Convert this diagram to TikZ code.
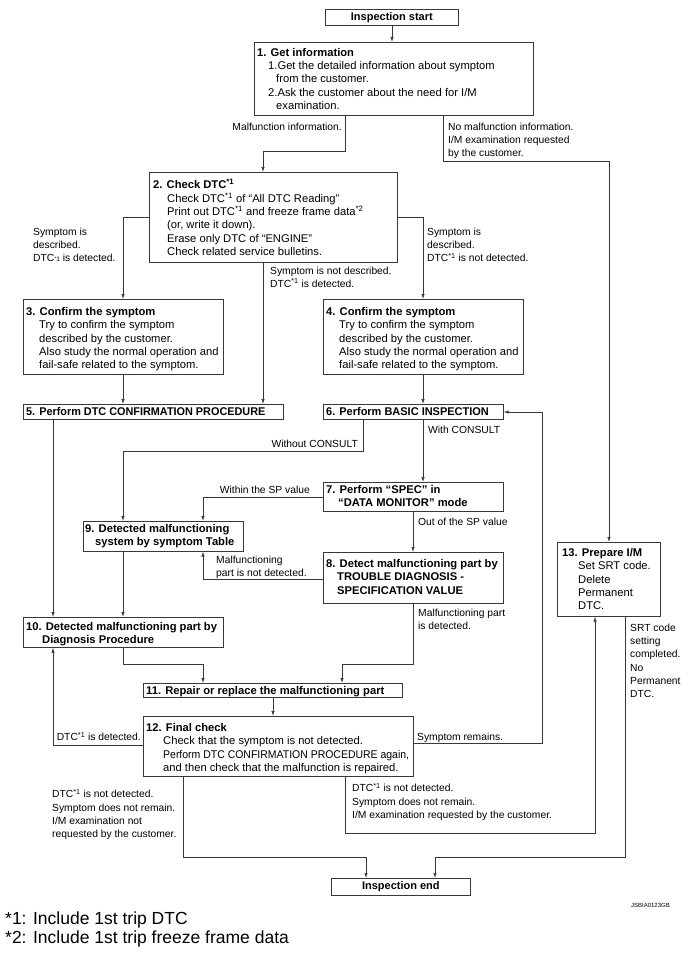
\documentclass[tikz,border=0pt]{standalone}
\usepackage{fontspec}
\setmainfont{Liberation Sans}
\usetikzlibrary{arrows.meta}
\newcommand{\sone}{\textsuperscript{*1}}
\newcommand{\stwo}{\textsuperscript{*2}}
\newcommand{\slow}{\raisebox{1.2pt}{\fontsize{5}{5}\selectfont*}{\fontsize{6.5}{6.5}\selectfont 1}}
\begin{document}
\begin{tikzpicture}[x=1pt,y=-1pt,
  box/.style={draw=black!78, line width=0.7pt, inner sep=0pt, anchor=north west},
  txt/.style={anchor=north west, inner sep=0pt, align=left, font=\fontsize{11.2}{13.4}\selectfont},
  lbl/.style={anchor=north west, inner sep=0pt, align=left, font=\fontsize{10.3}{13.3}\selectfont},
  arr/.style={draw=black!78, line width=0.7pt, -{Latex[length=5pt,width=3.4pt]}},
  endbox/.style={box, font=\fontsize{11}{13}\selectfont\bfseries}]
\useasboundingbox (0,0) rectangle (689,955);
\fill[white] (0,0) rectangle (689,955);
% boxes
\node[endbox, minimum width=133pt, minimum height=16pt] (st) at (325,9) {Inspection start};
\node[box, minimum width=279pt, minimum height=73pt] (b1) at (254,42) {};
\node[box, minimum width=248pt, minimum height=90pt] (b2) at (149,172) {};
\node[box, minimum width=200pt, minimum height=75pt] (b3) at (23,299) {};
\node[box, minimum width=200pt, minimum height=75pt] (b4) at (323,299) {};
\node[box, minimum width=260pt, minimum height=15pt] (b5) at (23,404) {};
\node[box, minimum width=180pt, minimum height=15pt] (b6) at (323,404) {};
\node[box, minimum width=180pt, minimum height=29pt] (b7) at (323,482) {};
\node[box, minimum width=160pt, minimum height=30pt] (b9) at (83,521) {};
\node[box, minimum width=180pt, minimum height=51pt] (b8) at (323,552) {};
\node[box, minimum width=200pt, minimum height=30pt] (b10) at (23,617) {};
\node[box, minimum width=259pt, minimum height=14pt] (b11) at (143,683) {};
\node[box, minimum width=270pt, minimum height=60pt] (b12) at (143,716) {};
\node[box, minimum width=103pt, minimum height=74pt] (b13) at (557,542) {};
\node[endbox, minimum width=139pt, minimum height=17pt] (en) at (331,878) {Inspection end};
% box texts
\node[txt] (t1) at (257,47) {\rule{0pt}{9pt}\textbf{1. Get information}\\
  \hspace*{11pt}1.Get the detailed information about symptom\\
  \hspace*{19pt}from the customer.\\
  \hspace*{11pt}2.Ask the customer about the need for I/M\\
  \hspace*{19pt}examination.};
\node[txt] (t2) at (153,177.5) {\rule{0pt}{11pt}\textbf{2. Check DTC\textsuperscript{*1}}\\
  \hspace*{14pt}Check DTC\sone{} of “All DTC Reading”\\
  \hspace*{14pt}Print out DTC\sone{} and freeze frame data\stwo\\
  \hspace*{14pt}(or, write it down).\\
  \hspace*{14pt}Erase only DTC of “ENGINE”\\
  \hspace*{14pt}Check related service bulletins.};
\node[txt] (t3) at (26,306) {\rule{0pt}{9pt}\textbf{3. Confirm the symptom}\\
  \hspace*{13pt}Try to confirm the symptom\\
  \hspace*{13pt}described by the customer.\\
  \hspace*{13pt}Also study the normal operation and\\
  \hspace*{13pt}fail-safe related to the symptom.};
\node[txt] (t4) at (326,306) {\rule{0pt}{9pt}\textbf{4. Confirm the symptom}\\
  \hspace*{13pt}Try to confirm the symptom\\
  \hspace*{13pt}described by the customer.\\
  \hspace*{13pt}Also study the normal operation and\\
  \hspace*{13pt}fail-safe related to the symptom.};
\node[txt] (t5) at (26,406.5) {\rule{0pt}{9pt}\scalebox{0.97}[1]{\textbf{5. Perform DTC CONFIRMATION PROCEDURE}}};
\node[txt] (t6) at (326,406.5) {\rule{0pt}{9pt}\scalebox{0.98}[1]{\textbf{6. Perform BASIC INSPECTION}}};
\node[txt] (t7) at (326,484) {\rule{0pt}{9pt}\textbf{7. Perform “SPEC” in}\\
  \hspace*{12pt}\textbf{“DATA MONITOR” mode}};
\node[txt] (t9) at (85,523) {\rule{0pt}{9pt}\textbf{9. Detected malfunctioning}\\
  \hspace*{10pt}\textbf{system by symptom Table}};
\node[txt] (t8) at (326,558) {\rule{0pt}{9pt}\textbf{8. Detect malfunctioning part by}\\
  \hspace*{11pt}\textbf{TROUBLE DIAGNOSIS -}\\
  \hspace*{11pt}\textbf{SPECIFICATION VALUE}};
\node[txt] (t10) at (26,621) {\rule{0pt}{9pt}\textbf{10. Detected malfunctioning part by}\\
  \hspace*{16pt}\textbf{Diagnosis Procedure}};
\node[txt] (t11) at (146,685.5) {\rule{0pt}{9pt}\textbf{11. Repair or replace the malfunctioning part}};
\node[txt] (t12) at (146,722) {\rule{0pt}{9pt}\textbf{12. Final check}\\
  \hspace*{17pt}Check that the symptom is not detected.\\
  \hspace*{17pt}\scalebox{0.935}[1]{Perform DTC CONFIRMATION PROCEDURE again,}\\
  \hspace*{17pt}and then check that the malfunction is repaired.};
\node[txt] (t13) at (562,547) {\rule{0pt}{9pt}\textbf{13. Prepare I/M}\\
  \hspace*{16pt}Set SRT code.\\
  \hspace*{16pt}Delete\\
  \hspace*{16pt}Permanent\\
  \hspace*{16pt}DTC.};
% labels
\node[lbl, anchor=north east] (l1) at (342,122) {\rule{0pt}{8pt}Malfunction information.};
\node[lbl] (l2) at (448,122) {\rule{0pt}{8pt}No malfunction information.\\I/M examination requested\\by the customer.};
\node[lbl] (l3) at (33,227) {\rule{0pt}{8pt}Symptom is\\described.\\DTC\slow{} is detected.};
\node[lbl] (l4) at (270,266) {\rule{0pt}{8pt}Symptom is not described.\\DTC\sone{} is detected.};
\node[lbl] (l5) at (427,227) {\rule{0pt}{8pt}Symptom is\\described.\\DTC\sone{} is not detected.};
\node[lbl, anchor=north east] (l6) at (358,439) {\rule{0pt}{8pt}Without CONSULT};
\node[lbl] (l7) at (428,425) {\rule{0pt}{8pt}With CONSULT};
\node[lbl, anchor=north east] (l8) at (310,485) {\rule{0pt}{8pt}Within the SP value};
\node[lbl] (l9) at (418,517) {\rule{0pt}{8pt}Out of the SP value};
\node[lbl] (l10) at (216,555) {\rule{0pt}{8pt}Malfunctioning\\part is not detected.};
\node[lbl] (l11) at (418,608) {\rule{0pt}{8pt}Malfunctioning part\\is detected.};
\node[lbl, anchor=north east] (l12) at (141,732) {\rule{0pt}{8pt}DTC\sone{} is detected.};
\node[lbl] (l13) at (417,732) {\rule{0pt}{8pt}Symptom remains.};
\node[lbl] (l14) at (52,789) {\rule{0pt}{8pt}DTC\sone{} is not detected.\\Symptom does not remain.\\I/M examination not\\requested by the customer.};
\node[lbl] (l15) at (352,783) {\rule{0pt}{8pt}DTC\sone{} is not detected.\\Symptom does not remain.\\I/M examination requested by the customer.};
\node[lbl] (l16) at (630,623) {\rule{0pt}{8pt}SRT code\\setting\\completed.\\No\\Permanent\\DTC.};
\node[anchor=base west, inner sep=0pt, font=\fontsize{17.5}{19}\selectfont] (f1) at (5,924) {*1: Include 1st trip DTC};
\node[anchor=base west, inner sep=0pt, font=\fontsize{17.5}{19}\selectfont] (f2) at (5,943) {*2: Include 1st trip freeze frame data};
\node[anchor=base east, inner sep=0pt, font=\fontsize{6}{7}\selectfont] (code) at (670,907) {JSBIA0123GB};
% connectors
\draw[arr] (st.south -| 392,0) -- (b1.north -| 392,0);
\draw[arr] (b1.south -| 345,0) -- (345,151) -| (b2.north -| 263,0);
\draw[arr] (b1.south -| 443,0) -- (443,161) -| (b13.north -| 609,0);
\draw[arr] (b2.west |- 0,217) -| (b3.north -| 123,0);
\draw[arr] (b2.south -| 263,0) -- (b5.north -| 263,0);
\draw[arr] (b2.east |- 0,217) -| (b4.north -| 423,0);
\draw[arr] (b3.south -| 123,0) -- (b5.north -| 123,0);
\draw[arr] (b4.south -| 423,0) -- (b6.north -| 423,0);
\draw[arr] (b5.south -| 53,0) -- (b10.north -| 53,0);
\draw[arr] (b6.south -| 363,0) -- (363,451) -| (b9.north -| 123,0);
\draw[arr] (b6.south -| 423,0) -- (b7.north -| 423,0);
\draw[arr] (b7.west |- 0,497) -| (b9.north -| 203,0);
\draw[arr] (b7.south -| 413,0) -- (b8.north -| 413,0);
\draw[arr] (b8.west |- 0,579) -| (b9.south -| 203,0);
\draw[arr] (b8.south -| 413,0) -- (413,664) -| (b11.north -| 342,0);
\draw[arr] (b9.south -| 123,0) -- (b10.north -| 123,0);
\draw[arr] (b10.south -| 123,0) -- (123,664) -| (b11.north -| 203,0);
\draw[arr] (b11.south -| 273,0) -- (b12.north -| 273,0);
\draw[arr] (b12.west |- 0,745) -| (b10.south -| 53,0);
\draw[arr] (b12.east |- 0,743) -| (542,412) -- (b6.east |- 0,412);
\draw[arr] (b12.south -| 183,0) -- (183,857) -| (en.north -| 366,0);
\draw[arr] (b12.south -| 345,0) -- (345,833) -| (b13.south -| 595,0);
\draw[arr] (b13.south -| 625,0) -- (625,857) -| (en.north -| 435,0);
\end{tikzpicture}
\end{document}
